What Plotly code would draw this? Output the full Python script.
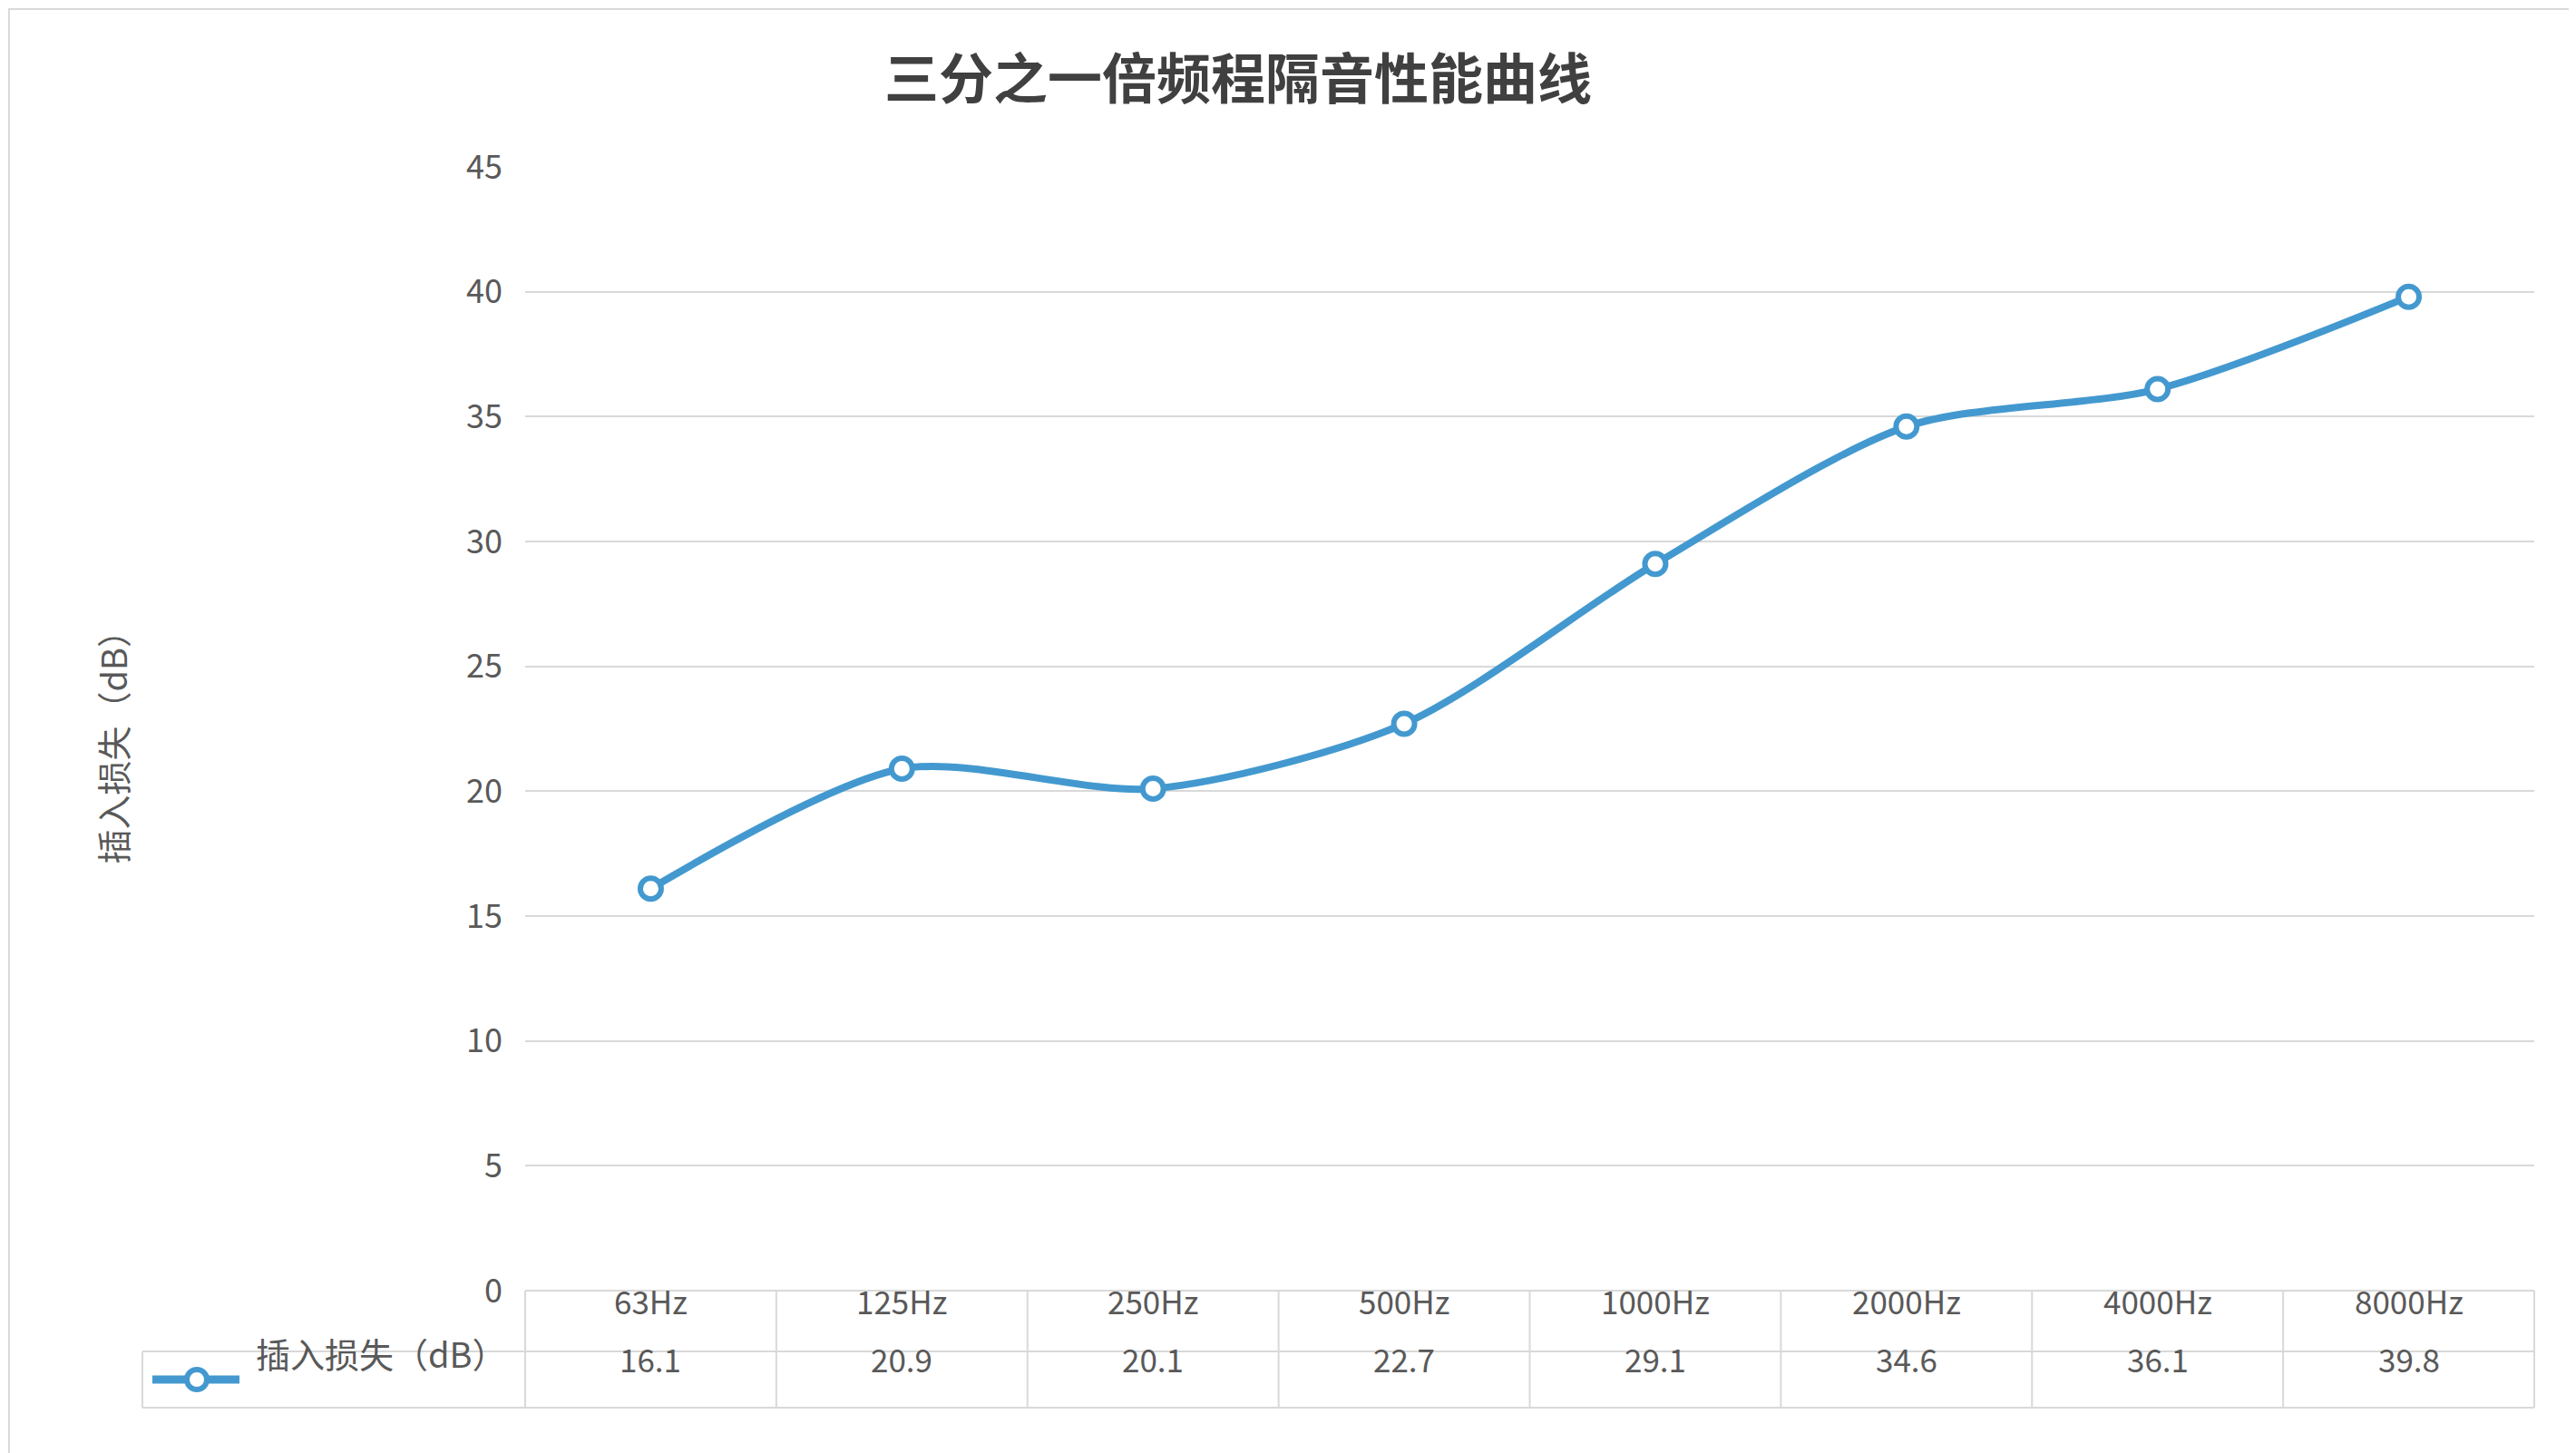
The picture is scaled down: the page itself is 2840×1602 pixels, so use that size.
import plotly.graph_objects as go

categories = ["63Hz", "125Hz", "250Hz", "500Hz", "1000Hz", "2000Hz", "4000Hz", "8000Hz"]
insertion_loss = [16.1, 20.9, 20.1, 22.7, 29.1, 34.6, 36.1, 39.8]
series_name = "插入损失（dB）"
y_ticks = [0, 5, 10, 15, 20, 25, 30, 35, 40, 45]

W, H = 2840, 1602
L, R, T, B = 571, 2786, 176, 1415
FONT = "Noto Sans CJK SC, Noto Sans, sans-serif"
GREY = "#595959"
LINE = "#d9d9d9"
BLUE = "#4399cf"


def px(x):
    return (x - L) / (R - L)


def py(y):
    return (B - y) / (B - T)


fig = go.Figure()
fig.add_trace(go.Scatter(
    x=list(range(len(categories))), y=insertion_loss,
    mode="lines+markers", line=dict(color=BLUE, width=8, shape="spline", smoothing=0.8),
    marker=dict(size=23, color="white", line=dict(color=BLUE, width=6)),
    showlegend=False, cliponaxis=False,
))

shapes = []
n = len(categories)
step = (R - L) / n
row1, row2, row3 = B, 1482, 1544
for yy, x0 in [(row1, L), (row2, 149), (row3, 149)]:
    shapes.append(dict(type="line", xref="paper", yref="paper", x0=px(x0), x1=1,
                       y0=py(yy), y1=py(yy), line=dict(color=LINE, width=2)))
for i in range(n + 1):
    xx = L + i * step
    shapes.append(dict(type="line", xref="paper", yref="paper", x0=px(xx), x1=px(xx),
                       y0=py(row1), y1=py(row3), line=dict(color=LINE, width=2)))
shapes.append(dict(type="line", xref="paper", yref="paper", x0=px(149), x1=px(149),
                   y0=py(row2), y1=py(row3), line=dict(color=LINE, width=2)))
shapes.append(dict(type="rect", xref="paper", yref="paper", x0=px(2), x1=px(W - 2),
                   y0=py(H - 2), y1=py(2), line=dict(color="#d9d9d9", width=2)))
# legend key
shapes.append(dict(type="line", xref="paper", yref="paper", x0=px(160), x1=px(256),
                   y0=py(1513), y1=py(1513), line=dict(color=BLUE, width=9)))
shapes.append(dict(type="circle", xref="paper", yref="paper", xsizemode="pixel", ysizemode="pixel",
                   xanchor=px(209), yanchor=py(1513), x0=-11, x1=11, y0=-11, y1=11,
                   fillcolor="white", line=dict(color=BLUE, width=6)))

annotations = []
for i, (c, v) in enumerate(zip(categories, insertion_loss)):
    annotations.append(dict(x=i, y=py((row1 + row2) / 2 + 4), xref="x", yref="paper", text=c,
                            showarrow=False, font=dict(size=35, color=GREY, family=FONT)))
    annotations.append(dict(x=i, y=py((row2 + row3) / 2 + 4), xref="x", yref="paper", text=f"{v:.1f}",
                            showarrow=False, font=dict(size=35, color=GREY, family=FONT)))
annotations.append(dict(x=px(272), y=py(1513), xref="paper", yref="paper", text=series_name,
                        xanchor="left", showarrow=False, font=dict(size=38, color=GREY, family=FONT)))
annotations.append(dict(x=px(85), y=py(806), xref="paper", yref="paper", text=series_name,
                        textangle=-90, showarrow=False, font=dict(size=38, color=GREY, family=FONT)))

fig.update_layout(
    width=W, height=H, margin=dict(l=L, r=W - R, t=T, b=H - B),
    paper_bgcolor="white", plot_bgcolor="white",
    title=dict(text="<b>三分之一倍频程隔音性能曲线</b>", x=px(1357), xanchor="center", xref="paper",
               y=1 - 80 / H, yanchor="middle", font=dict(size=60, color="#404040", family=FONT)),
    xaxis=dict(range=[-0.5, n - 0.5], showticklabels=False, showgrid=False, zeroline=False),
    yaxis=dict(range=[0, 45], tickvals=y_ticks, gridcolor=LINE, gridwidth=2, zeroline=False,
               tickfont=dict(size=36, color=GREY, family=FONT), ticklabelstandoff=24),
    shapes=shapes, annotations=annotations,
)
fig.write_html("out.html")
